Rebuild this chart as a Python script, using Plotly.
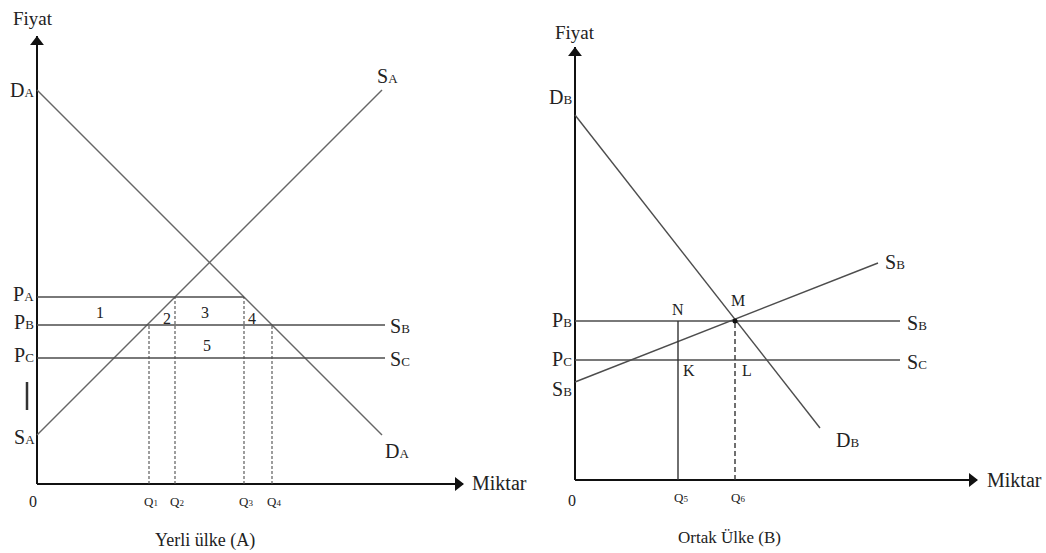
import plotly.graph_objects as go

# ---------------- Panel A: Yerli ülke (A) ----------------
A_DA_qty = [0, 345]
A_DA_price = [394, 49]
A_SA_qty = [0, 345]
A_SA_price = [49, 394]
A_P = [187, 159, 126]                     # P_A, P_B, P_C
A_P_names = [("P", "A"), ("P", "B"), ("P", "C")]
A_P_end = [207, 348, 348]                 # where each price line ends
A_P_curve = [None, ("S", "B"), ("S", "C")]
A_Q = [112, 138, 207, 235]
A_Q_top = [159, 187, 187, 159]
A_Q_names = [("Q", "1"), ("Q", "2"), ("Q", "3"), ("Q", "4")]
A_area_labels = ["1", "2", "3", "4", "5"]
A_area_q = [63, 130, 168, 215, 170]
A_area_p = [172, 166, 172, 166, 139]

# ---------------- Panel B: Ortak Ülke (B) ----------------
B_DB_qty = [0, 245]
B_DB_price = [365, 52]
B_SB_qty = [0, 303]
B_SB_price = [98, 217]
B_P = [159, 120]                          # P_B, P_C
B_P_names = [("P", "B"), ("P", "C")]
B_P_end = [325, 325]
B_P_curve = [("S", "B"), ("S", "C")]
B_Q = [103, 160]
B_Q_names = [("Q", "5"), ("Q", "6")]
B_M = (160, 159)

FONT = "Liberation Serif"
LINE = "#4d4d4d"
AX = "#111111"

fig = go.Figure()


def sub(main, s, small=13):
    return f"{main}<span style='font-size:{small}px'>{s}</span>"


def line(xs, ys, xa, ya, color=LINE, width=1.4, dash="solid"):
    fig.add_trace(go.Scatter(x=xs, y=ys, xaxis=xa, yaxis=ya, mode="lines",
                             line=dict(color=color, width=width, dash=dash),
                             hoverinfo="skip", showlegend=False))


def label(text, x, y, xa, ya, size=20, xanchor="center", yanchor="middle"):
    fig.add_annotation(text=text, x=x, y=y, xref=xa, yref=ya, showarrow=False,
                       xanchor=xanchor, yanchor=yanchor,
                       font=dict(family=FONT, size=size, color="#222222"))


def axes(xlen, ylen, xa, ya):
    line([0, xlen], [0, 0], xa, ya, color=AX, width=2)
    line([0, 0], [0, ylen], xa, ya, color=AX, width=2)
    fig.add_trace(go.Scatter(x=[xlen - 5, 0], y=[0, ylen - 6], xaxis=xa, yaxis=ya,
                             mode="markers", hoverinfo="skip", showlegend=False,
                             marker=dict(symbol=["triangle-right", "triangle-up"],
                                         size=12, color=AX)))


# ----- Panel A drawing -----
xa, ya = "x", "y"
axes(426, 448, xa, ya)
line(A_DA_qty, A_DA_price, xa, ya, color="#666666")
line(A_SA_qty, A_SA_price, xa, ya, color="#666666")
for p, e in zip(A_P, A_P_end):
    line([0, e], [p, p], xa, ya)
for q, t in zip(A_Q, A_Q_top):
    line([q, q], [0, t], xa, ya, dash="3px,2px", width=1.1)
line([-10, -10], [74, 102], xa, ya, color="#333333", width=2.5)

label("Fiyat", -4, 466, xa, ya, size=19)
label(sub("D", "A"), -1, 394, xa, ya, xanchor="right")
label(sub("S", "A"), 0, 47, xa, ya, xanchor="right")
for p, (m, s) in zip(A_P, A_P_names):
    label(sub(m, s), -1, p + 3, xa, ya, xanchor="right")
for p, e, c in zip(A_P, A_P_end, A_P_curve):
    if c:
        label(sub(*c), e + 3, p - 1, xa, ya, xanchor="left")
label(sub("S", "A"), A_SA_qty[1] - 7, A_SA_price[1] + 14, xa, ya, xanchor="left")
label(sub("D", "A"), A_DA_qty[1] + 1, A_DA_price[1] - 16, xa, ya, xanchor="left")
for t, q, p in zip(A_area_labels, A_area_q, A_area_p):
    label(t, q, p, xa, ya, size=16)
for q, (m, s) in zip(A_Q, A_Q_names):
    label(sub(m, s, 9), q + 2, -17, xa, ya, size=13)
label("0", -4, -17, xa, ya, size=16)
label("Miktar", 433, 1, xa, ya, xanchor="left")
label("Yerli ülke (A)", 168, -56, xa, ya, size=18)

# ----- Panel B drawing -----
xa, ya = "x2", "y2"
axes(402, 433, xa, ya)
line(B_DB_qty, B_DB_price, xa, ya)
line(B_SB_qty, B_SB_price, xa, ya)
for p, e in zip(B_P, B_P_end):
    line([0, e], [p, p], xa, ya)
line([B_Q[0], B_Q[0]], [0, B_P[0]], xa, ya, color="#333333")
line([B_Q[1], B_Q[1]], [0, B_P[0]], xa, ya, color="#333333", dash="5px,3px")
fig.add_trace(go.Scatter(x=[B_M[0]], y=[B_M[1]], xaxis=xa, yaxis=ya, mode="markers",
                         marker=dict(size=5, color="#111111"), hoverinfo="skip",
                         showlegend=False))

label("Fiyat", 0, 448, xa, ya, size=19)
label(sub("D", "B"), -1, 383, xa, ya, xanchor="right")
for p, (m, s) in zip(B_P, B_P_names):
    label(sub(m, s), -1, p + 1, xa, ya, xanchor="right")
label(sub("S", "B"), -1, 91, xa, ya, xanchor="right")
for p, e, c in zip(B_P, B_P_end, B_P_curve):
    label(sub(*c), e + 5, p - 2, xa, ya, xanchor="left")
label(sub("S", "B"), B_SB_qty[1] + 5, B_SB_price[1] + 1, xa, ya, xanchor="left")
label(sub("D", "B"), B_DB_qty[1] + 14, B_DB_price[1] - 12, xa, ya, xanchor="left")
label("N", B_Q[0], B_P[0] + 12, xa, ya, size=16)
label("M", B_M[0] + 3, B_M[1] + 21, xa, ya, size=16)
label("K", B_Q[0] + 11, B_P[1] - 10, xa, ya, size=16)
label("L", B_Q[1] + 12, B_P[1] - 10, xa, ya, size=16)
for q, (m, s) in zip(B_Q, B_Q_names):
    label(sub(m, s, 9), q + 3, -17, xa, ya, size=13)
label("0", -3, -20, xa, ya, size=16)
label("Miktar", 410, 0, xa, ya, xanchor="left")
label("Ortak Ülke (B)", 154, -57, xa, ya, size=17)

hidden = dict(visible=False, fixedrange=True)
fig.update_layout(
    width=1046, height=553, autosize=False,
    margin=dict(l=0, r=0, t=0, b=0),
    paper_bgcolor="white", plot_bgcolor="white",
    xaxis=dict(domain=[0, 0.5], range=[-37, 486], **hidden),
    yaxis=dict(domain=[0, 1], range=[-69, 484], **hidden),
    xaxis2=dict(domain=[0.5, 1], range=[-52, 471], **hidden),
    yaxis2=dict(domain=[0, 1], range=[-73, 480], anchor="x2", **hidden),
    showlegend=False,
)

fig.write_html("out.html", config={"displayModeBar": False},
               post_script="document.body.style.margin='0';document.body.style.overflow='hidden';")
